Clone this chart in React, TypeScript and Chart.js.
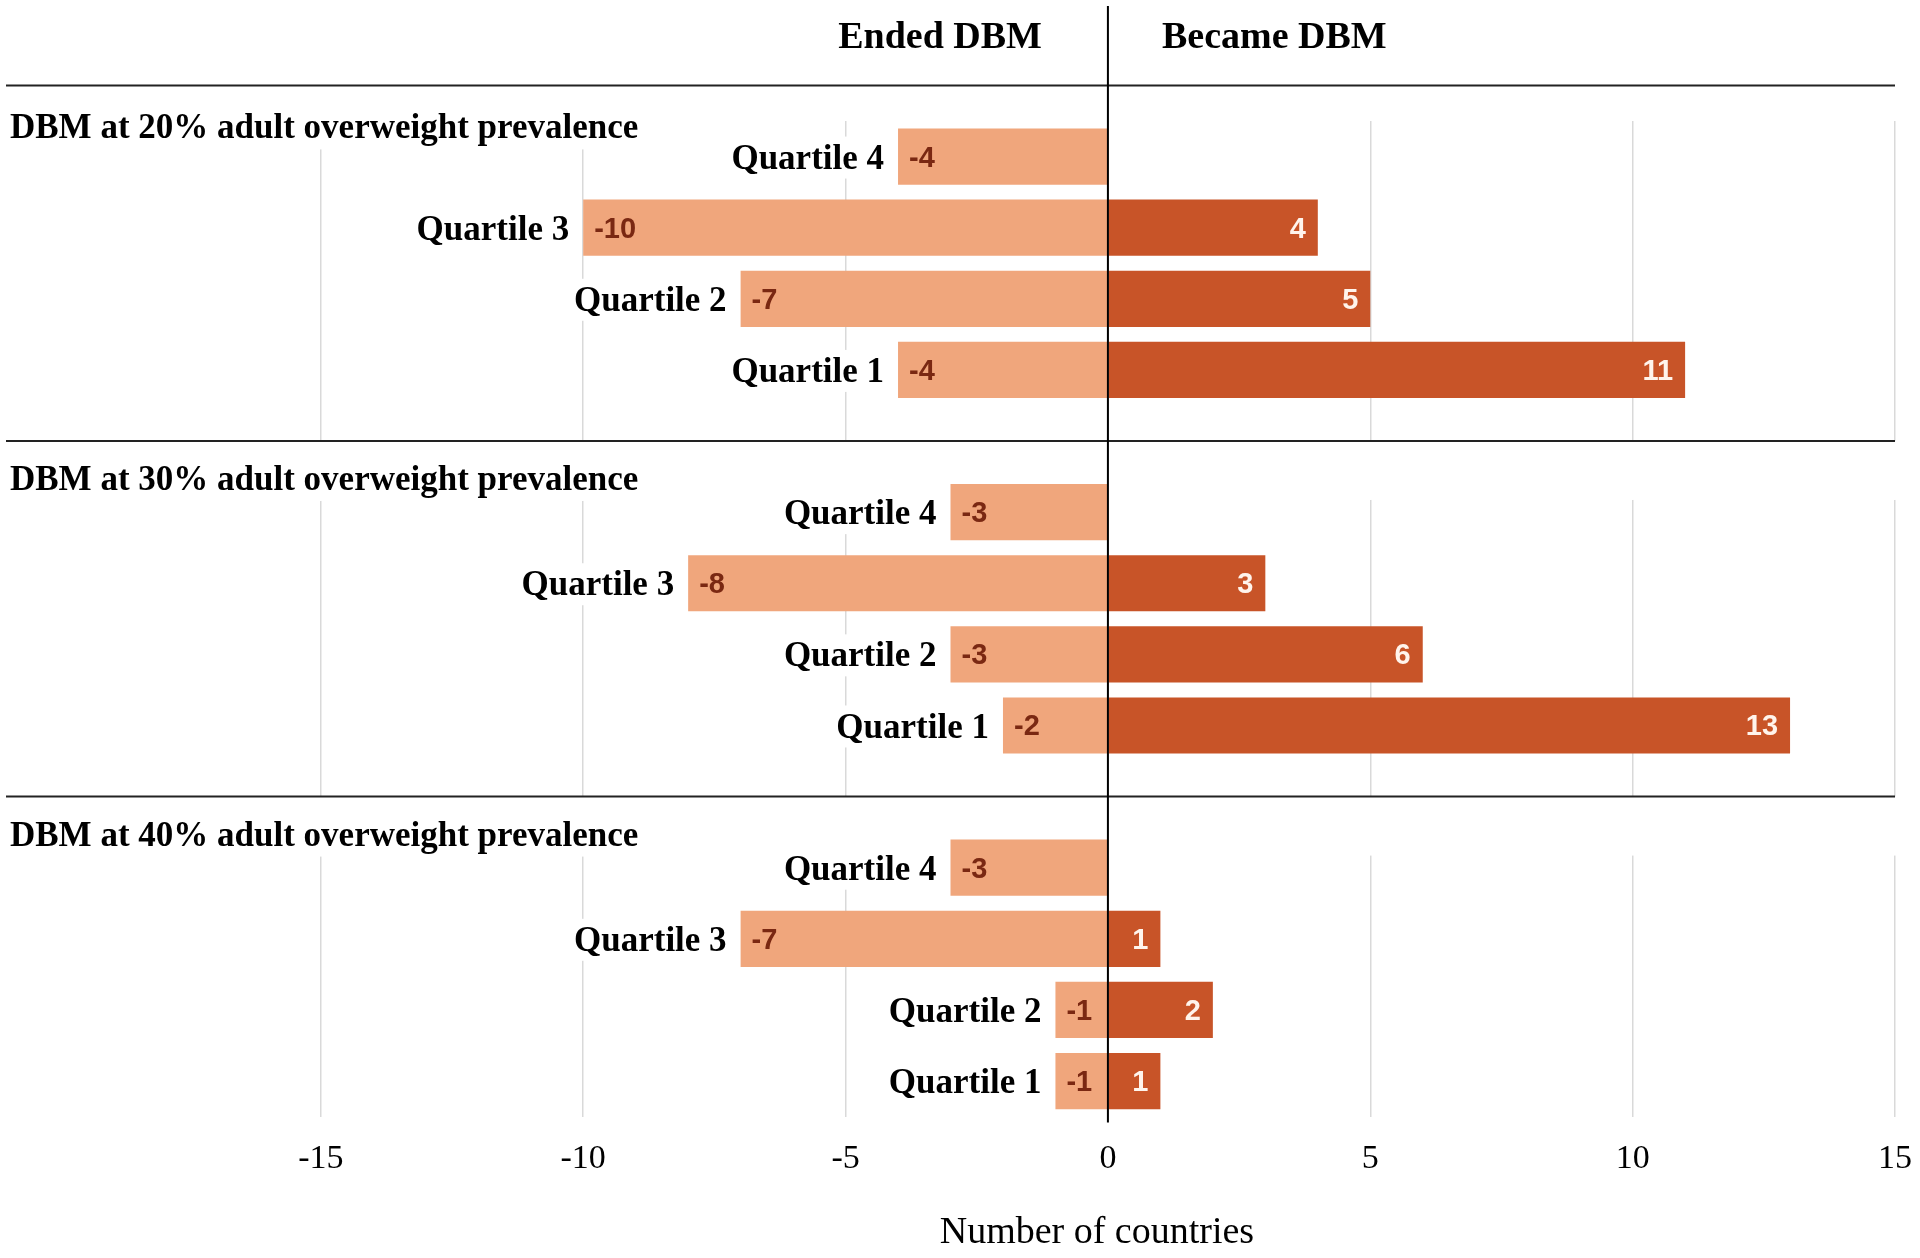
import React, { useEffect, useRef } from "react";
import { Chart, registerables } from "chart.js";

Chart.register(...registerables);

// ---- Data ----
const groupTitles = [
  "DBM at 20% adult overweight prevalence",
  "DBM at 30% adult overweight prevalence",
  "DBM at 40% adult overweight prevalence",
];
const quartileLabels = ["Quartile 4", "Quartile 3", "Quartile 2", "Quartile 1"];

const ended20 = [-4, -10, -7, -4];
const became20 = [null, 4, 5, 11];
const ended30 = [-3, -8, -3, -2];
const became30 = [null, 3, 6, 13];
const ended40 = [-3, -7, -1, -1];
const became40 = [null, 1, 2, 1];

const xTickValues = [-15, -10, -5, 0, 5, 10, 15];
const xMin = -21;
const xMax = 15;

const sideHeaders = ["Ended DBM", "Became DBM"];
const xAxisTitle = "Number of countries";

// ---- Build slot arrays (gap slot between groups) ----
const endedGroups = [ended20, ended30, ended40];
const becameGroups = [became20, became30, became40];

const slotLabels: string[] = [];
const endedData: (number | null)[] = [];
const becameData: (number | null)[] = [];
const gapSlots: number[] = [];
endedGroups.forEach((g, gi) => {
  if (gi > 0) {
    gapSlots.push(slotLabels.length);
    slotLabels.push("");
    endedData.push(null);
    becameData.push(null);
  }
  g.forEach((v, i) => {
    slotLabels.push(quartileLabels[i]);
    endedData.push(v);
    becameData.push(becameGroups[gi][i]);
  });
});

const COLOR_NEG = "#F0A67C";
const COLOR_POS = "#C85428";
const SERIF = '"Liberation Serif", "Times New Roman", serif';
const SANS = '"Liberation Sans", Arial, sans-serif';

const overlayPlugin = {
  id: "overlay",
  beforeDatasetsDraw(chart: any) {
    const { ctx, chartArea } = chart;
    const y = chart.scales.y;
    const slot = Math.abs(y.getPixelForValue(1) - y.getPixelForValue(0));
    const sepYs = [y.getPixelForValue(0) - slot, ...gapSlots.map((s) => y.getPixelForValue(s))];
    ctx.save();
    sepYs.forEach((sy, gi) => {
      const hy = sy + slot * 0.52 + (gi === 0 ? 7 : 3);
      if (gi > 0) {
        ctx.fillStyle = "#ffffff";
        ctx.fillRect(chartArea.left - 2, sy, chartArea.right - chartArea.left + 4, hy + 19 - sy);
      }
      // separator line
      ctx.strokeStyle = "#222222";
      ctx.lineWidth = 2;
      ctx.beginPath();
      ctx.moveTo(chartArea.left, sy);
      ctx.lineTo(chartArea.right, sy);
      ctx.stroke();
      // group header with white background
      ctx.font = `bold 35px ${SERIF}`;
      const w = ctx.measureText(groupTitles[gi]).width;
      ctx.fillStyle = "#ffffff";
      ctx.fillRect(8, hy - 20, w + 6, 40);
      ctx.fillStyle = "#000000";
      ctx.textAlign = "left";
      ctx.textBaseline = "middle";
      ctx.fillText(groupTitles[gi], 10, hy);
    });
    ctx.restore();
  },
  afterDatasetsDraw(chart: any) {
    const { ctx, chartArea } = chart;
    const x = chart.scales.x;
    const x0 = x.getPixelForValue(0);
    const negMeta = chart.getDatasetMeta(0);
    const posMeta = chart.getDatasetMeta(1);
    ctx.save();
    // quartile labels + negative values
    negMeta.data.forEach((bar: any, i: number) => {
      const v = endedData[i];
      if (v === null || v === undefined) return;
      const left = Math.min(bar.x, bar.base);
      ctx.font = `bold 35px ${SERIF}`;
      const txt = slotLabels[i];
      const w = ctx.measureText(txt).width;
      ctx.fillStyle = "#ffffff";
      ctx.fillRect(left - 14 - w - 3, bar.y - 20, w + 6, 42);
      ctx.fillStyle = "#000000";
      ctx.textAlign = "right";
      ctx.textBaseline = "middle";
      ctx.fillText(txt, left - 14, bar.y + 3);
      ctx.font = `bold 29px ${SANS}`;
      ctx.fillStyle = "#7A2812";
      ctx.textAlign = "left";
      ctx.fillText(String(v), left + 11, bar.y + 2);
    });
    posMeta.data.forEach((bar: any, i: number) => {
      const v = becameData[i];
      if (v === null || v === undefined) return;
      const right = Math.max(bar.x, bar.base);
      ctx.font = `bold 29px ${SANS}`;
      ctx.fillStyle = "#FFF4EC";
      ctx.textAlign = "right";
      ctx.textBaseline = "middle";
      ctx.fillText(String(v), right - 12, bar.y + 2);
    });
    // zero line
    ctx.strokeStyle = "#000000";
    ctx.lineWidth = 2;
    ctx.beginPath();
    ctx.moveTo(x0, 6);
    ctx.lineTo(x0, chartArea.bottom + 6);
    ctx.stroke();
    // side headers
    ctx.font = `bold 38px ${SERIF}`;
    ctx.fillStyle = "#000000";
    ctx.textBaseline = "middle";
    ctx.textAlign = "right";
    ctx.fillText(sideHeaders[0], x0 - 66, 38);
    ctx.textAlign = "left";
    ctx.fillText(sideHeaders[1], x0 + 54, 38);
    ctx.restore();
  },
  afterDraw(chart: any) {
    // axis title, centred slightly left of the zero line (space reserved by the scale title)
    const { ctx } = chart;
    const x = chart.scales.x;
    const x0 = x.getPixelForValue(0);
    ctx.save();
    ctx.font = `38px ${SERIF}`;
    ctx.fillStyle = "#000000";
    ctx.textAlign = "center";
    ctx.textBaseline = "middle";
    ctx.fillText(xAxisTitle, x0 - 11, x.bottom - 25);
    ctx.restore();
  },
};

export default function App() {
  const ref = useRef<HTMLCanvasElement | null>(null);
  useEffect(() => {
    if (!ref.current) return;
    const chart = new Chart(ref.current, {
      type: "bar",
      data: {
        labels: slotLabels,
        datasets: [
          {
            label: "Ended DBM",
            data: endedData as any,
            backgroundColor: COLOR_NEG,
            borderWidth: 0,
            barPercentage: 0.79,
            categoryPercentage: 1,
          },
          {
            label: "Became DBM",
            data: becameData as any,
            backgroundColor: COLOR_POS,
            borderWidth: 0,
            barPercentage: 0.79,
            categoryPercentage: 1,
          },
        ],
      },
      options: {
        indexAxis: "y",
        responsive: false,
        animation: false,
        devicePixelRatio: 1,
        layout: { padding: { top: 121, left: 6, right: 25, bottom: 0 } },
        plugins: {
          legend: { display: false },
          tooltip: { enabled: false },
        },
        scales: {
          x: {
            type: "linear",
            min: xMin,
            max: xMax,
            stacked: true,
            afterBuildTicks: (scale: any) => {
              scale.ticks = xTickValues.map((v) => ({ value: v }));
            },
            afterFit: (scale: any) => {
              scale.paddingLeft = 0;
              scale.paddingRight = 0;
            },
            grid: { color: "#d9d9d9", lineWidth: 1.5, drawTicks: false },
            border: { display: false },
            ticks: {
              padding: 22,
              color: "#000000",
              font: { family: SERIF, size: 34 },
              maxRotation: 0,
            },
            title: {
              display: true,
              text: xAxisTitle,
              color: "rgba(0,0,0,0)",
              font: { family: SERIF, size: 38 },
              padding: { top: 11, bottom: 0 },
            },
          },
          y: {
            stacked: true,
            display: false,
          },
        },
      },
      plugins: [overlayPlugin],
    } as any);
    return () => chart.destroy();
  }, []);
  return (
    <div style={{ position: "absolute", left: 0, top: 0, width: 1920, height: 1258, background: "#ffffff" }}>
      <canvas ref={ref} width={1920} height={1258} style={{ display: "block" }} />
    </div>
  );
}
